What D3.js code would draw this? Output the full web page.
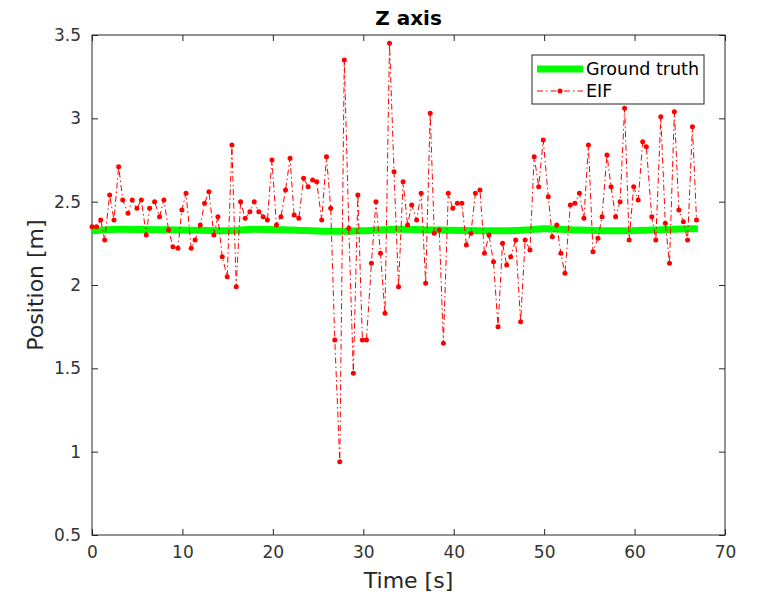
<!DOCTYPE html>
<html>
<head>
<meta charset="utf-8">
<title>Z axis</title>
<script src="https://d3js.org/d3.v7.min.js"></script>
<style>
  body { margin: 0; background: #fff; }
  svg text { font-family: "DejaVu Sans", sans-serif; fill: #262626; }
  .tick text { font-size: 17px; fill: #333; }
</style>
</head>
<body>
<svg width="759" height="597"></svg>
<script>
// EIF estimate
var eifTime = [0, 0.5, 0.96, 1.4, 1.95, 2.43, 2.95, 3.4, 3.98, 4.45, 4.97, 5.45, 6.0, 6.37, 6.92, 7.47, 7.95, 8.47, 8.95, 9.5,
  9.94, 10.4, 10.97, 11.4, 11.97, 12.45, 12.93, 13.48, 13.92, 14.4, 14.95, 15.47, 15.95, 16.43, 16.94, 17.46, 17.94, 18.45, 18.93, 19.4,
  19.9, 20.4, 20.9, 21.4, 21.9, 22.35, 22.87, 23.4, 23.9, 24.4, 24.85, 25.4, 25.93, 26.4, 26.85, 27.4, 27.9, 28.4, 28.9, 29.4,
  29.9, 30.35, 30.9, 31.4, 31.9, 32.4, 32.9, 33.4, 33.9, 34.4, 34.9, 35.35, 35.9, 36.4, 36.9, 37.4, 37.85, 38.4, 38.86, 39.4,
  39.9, 40.4, 40.9, 41.4, 41.9, 42.4, 42.9, 43.4, 43.9, 44.4, 44.9, 45.4, 45.86, 46.3, 46.85, 47.4, 47.9, 48.43, 48.9, 49.4,
  49.9, 50.46, 50.9, 51.4, 51.85, 52.3, 52.9, 53.4, 53.9, 54.4, 54.9, 55.4, 55.95, 56.4, 56.95, 57.4, 57.9, 58.4, 58.9, 59.4,
  59.9, 60.4, 60.9, 61.3, 61.9, 62.35, 62.9, 63.4, 63.86, 64.4, 64.9, 65.4, 65.86, 66.4, 66.85];
var eifZ = [2.35, 2.35, 2.39, 2.27, 2.54, 2.39, 2.71, 2.51, 2.43, 2.51, 2.46, 2.51, 2.30, 2.46, 2.50, 2.41, 2.51, 2.33, 2.23, 2.22,
  2.45, 2.55, 2.22, 2.27, 2.36, 2.49, 2.56, 2.30, 2.41, 2.17, 2.05, 2.84, 1.99, 2.50, 2.40, 2.44, 2.50, 2.44, 2.41, 2.39,
  2.75, 2.36, 2.41, 2.57, 2.76, 2.42, 2.40, 2.64, 2.59, 2.63, 2.62, 2.39, 2.77, 2.46, 1.67, 0.94, 3.35, 2.34, 1.47, 2.54,
  1.67, 1.67, 2.13, 2.50, 2.19, 1.83, 3.45, 2.68, 1.99, 2.62, 2.36, 2.48, 2.39, 2.55, 2.01, 3.03, 2.31, 2.33, 1.65, 2.55,
  2.46, 2.49, 2.49, 2.24, 2.31, 2.55, 2.57, 2.19, 2.30, 2.14, 1.75, 2.25, 2.12, 2.17, 2.27, 1.78, 2.27, 2.21, 2.77, 2.59,
  2.87, 2.53, 2.29, 2.36, 2.19, 2.07, 2.48, 2.49, 2.55, 2.40, 2.84, 2.20, 2.28, 2.41, 2.78, 2.59, 2.41, 2.50, 3.06, 2.27,
  2.59, 2.51, 2.86, 2.83, 2.41, 2.27, 3.01, 2.37, 2.13, 3.04, 2.45, 2.38, 2.27, 2.95, 2.39];

// ground truth
var gtTime = [0, 3, 10, 15, 18, 22, 26, 30, 34, 38, 45, 48, 50, 54, 58, 62, 66, 67];
var gtZ = [2.325, 2.335, 2.33, 2.325, 2.335, 2.33, 2.322, 2.325, 2.335, 2.33, 2.325, 2.33, 2.338, 2.33, 2.325, 2.33, 2.338, 2.338];

var xTicks = [0, 10, 20, 30, 40, 50, 60, 70];
var yTicks = [0.5, 1, 1.5, 2, 2.5, 3, 3.5];

var svg = d3.select('svg');
var mLeft = 92, mRight = 725, mTop = 35, mBottom = 535;
var w = mRight - mLeft, h = mBottom - mTop;

var x = d3.scaleLinear().domain([0, 70]).range([0, w]);
var y = d3.scaleLinear().domain([0.5, 3.5]).range([h, 0]);

var g = svg.append('g').attr('transform', `translate(${mLeft},${mTop})`);

var axisCol = '#262626';
function styleAxis(sel) {
  sel.select('.domain').remove();
  sel.selectAll('.tick line').attr('stroke', axisCol);
}

g.append('g').attr('transform', `translate(0,${h})`)
  .call(d3.axisBottom(x).tickValues(xTicks).tickSize(-6).tickPadding(11).tickFormat(String))
  .call(styleAxis);
g.append('g')
  .call(d3.axisTop(x).tickValues(xTicks).tickSize(-6).tickFormat(''))
  .call(styleAxis);
g.append('g')
  .call(d3.axisLeft(y).tickValues(yTicks).tickSize(-6).tickPadding(11).tickFormat(String))
  .call(styleAxis);
g.append('g').attr('transform', `translate(${w},0)`)
  .call(d3.axisRight(y).tickValues(yTicks).tickSize(-6).tickFormat(''))
  .call(styleAxis);

g.append('rect').attr('width', w).attr('height', h)
  .attr('fill', 'none').attr('stroke', axisCol).attr('stroke-width', 1);

// ground truth line
var gtData = gtTime.map((t, i) => [t, gtZ[i]]);
g.append('path').datum(gtData)
  .attr('fill', 'none').attr('stroke', '#00ff00').attr('stroke-width', 7)
  .attr('d', d3.line().x(d => x(d[0])).y(d => y(d[1])).curve(d3.curveMonotoneX));

// EIF line
var eifData = eifTime.map((t, i) => [t, eifZ[i]]);
g.append('path').datum(eifData)
  .attr('fill', 'none').attr('stroke', '#ff0000').attr('stroke-width', 1)
  .attr('stroke-dasharray', '6,3,1.5,3')
  .attr('d', d3.line().x(d => x(d[0])).y(d => y(d[1])));
g.selectAll('.pt').data(eifData).enter().append('circle')
  .attr('cx', d => x(d[0])).attr('cy', d => y(d[1])).attr('r', 2.5)
  .attr('fill', '#ff0000');

// title and labels
svg.append('text').attr('x', mLeft + w / 2).attr('y', 25)
  .attr('text-anchor', 'middle').attr('font-size', 20).attr('font-weight', 'bold')
  .style('fill', '#000').text('Z axis');
svg.append('text').attr('x', mLeft + w / 2).attr('y', 588)
  .attr('text-anchor', 'middle').attr('font-size', 22).text('Time [s]');
svg.append('text').attr('transform', `translate(43,${mTop + h / 2}) rotate(-90)`)
  .attr('text-anchor', 'middle').attr('font-size', 22).text('Position [m]');

// legend
var lg = svg.append('g').attr('transform', 'translate(532,55)');
lg.append('rect').attr('width', 172).attr('height', 49)
  .attr('fill', '#fff').attr('stroke', axisCol).attr('stroke-width', 1);
lg.append('line').attr('x1', 5).attr('x2', 51).attr('y1', 14).attr('y2', 14)
  .attr('stroke', '#00ff00').attr('stroke-width', 7);
lg.append('line').attr('x1', 5).attr('x2', 51).attr('y1', 36).attr('y2', 36)
  .attr('stroke', '#ff0000').attr('stroke-width', 1).attr('stroke-dasharray', '6,3,1.5,3');
lg.append('circle').attr('cx', 28).attr('cy', 36).attr('r', 2.5).attr('fill', '#ff0000');
lg.append('text').attr('x', 54).attr('y', 20).attr('font-size', 17.5).style('fill', '#000').text('Ground truth');
lg.append('text').attr('x', 54).attr('y', 42).attr('font-size', 17.5).style('fill', '#000').text('EIF');
</script>
</body>
</html>
